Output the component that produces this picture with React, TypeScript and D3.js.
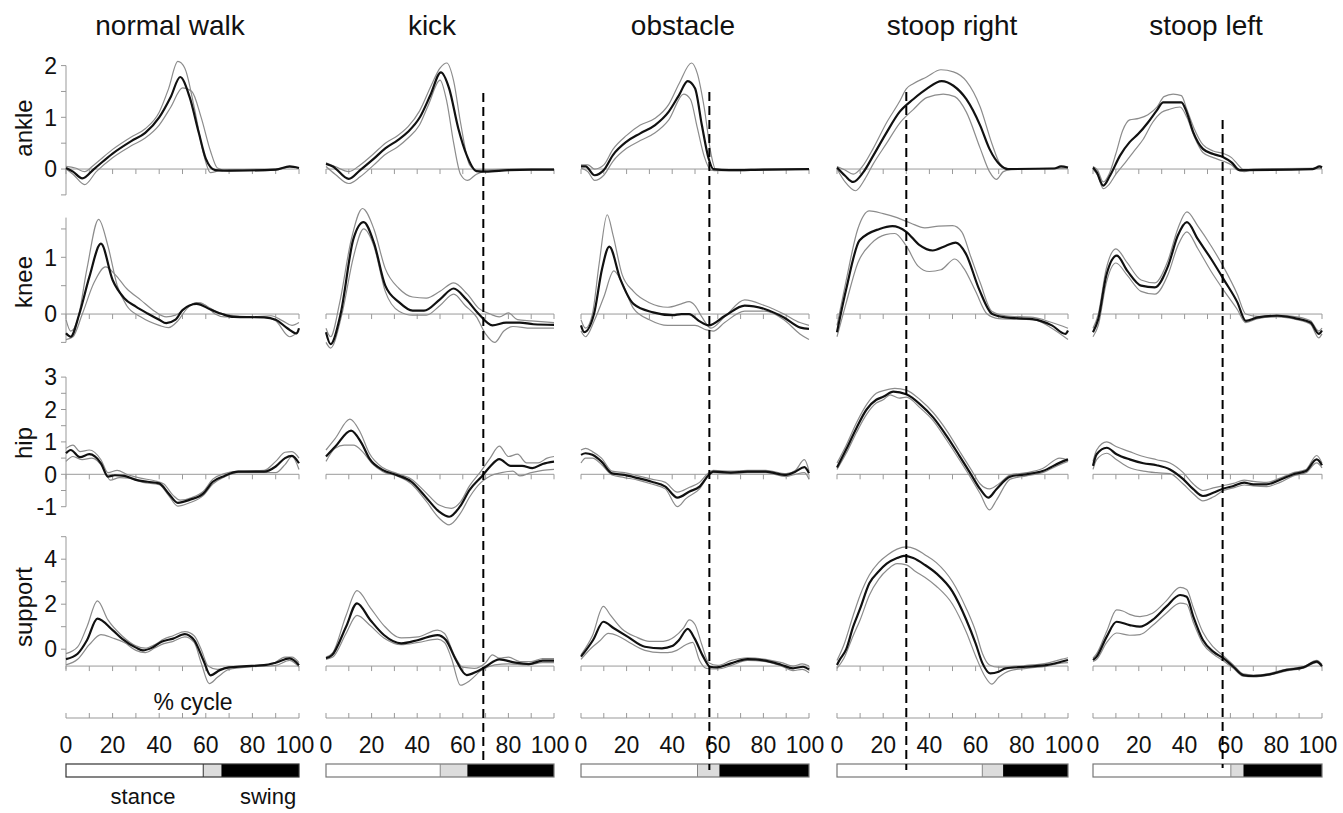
import React from 'react';
import * as d3 from 'd3';

type P = [number, number];

// ---------- labels ----------
const conditions = ['normal walk', 'kick', 'obstacle', 'stoop right', 'stoop left'];
const joints = ['ankle', 'knee', 'hip', 'support'];
const xTickValues = [0, 20, 40, 60, 80, 100];
const xMinorTicks = [0, 10, 20, 30, 40, 50, 60, 70, 80, 90, 100];
const yTicks = [
  [-0.5, 0, 0.5, 1, 1.5, 2],
  [-0.5, 0, 0.5, 1, 1.5],
  [-1, -0.5, 0, 0.5, 1, 1.5, 2, 2.5, 3],
  [0, 1, 2, 3, 4, 5],
];
const yTickLabels = [[0, 1, 2], [0, 1], [-1, 0, 1, 2, 3], [0, 2, 4]];
const rowBaseline = [0, 0, 0, -0.75];

// phase bars (% of cycle): end of stance, start of swing
const stanceEnd = [58.9, 50.1, 51.1, 62.9, 60.2];
const swingStart = [66.7, 62.0, 60.7, 71.9, 65.7];
// dashed event markers (% cycle)
const eventMark: (number | null)[] = [null, 69, 56.3, 30, 56.6];

// ---------- normal walk ----------
const walkAnkleMean: P[] = [[0,0.02],[3,-0.05],[7,-0.18],[12,0.0],[20,0.3],[28,0.54],[34,0.7],[40,1.0],[45,1.4],[49,1.78],[53,1.4],[57,0.7],[60,0.2],[64,-0.02],[70,-0.03],[90,-0.01],[96,0.05],[100,0.02]];
const walkAnkleA: P[] = [[0,0.05],[4,0.02],[8,-0.05],[12,0.08],[20,0.38],[28,0.62],[34,0.78],[40,1.1],[44,1.55],[48,2.08],[51,1.95],[55,1.2],[59,0.3],[62,-0.07],[66,-0.03],[75,-0.01],[90,0.0],[96,0.04],[100,0.02]];
const walkAnkleB: P[] = [[0,0.0],[3,-0.1],[8,-0.3],[13,-0.05],[20,0.22],[28,0.45],[34,0.6],[40,0.85],[45,1.2],[50,1.57],[54,1.5],[58,1.0],[62,0.35],[65,0.02],[70,-0.04],[90,-0.02],[96,0.04],[100,0.02]];
const walkKneeMean: P[] = [[0,-0.34],[2,-0.4],[5.7,0],[10,0.65],[15,1.24],[20,0.6],[25,0.28],[30,0.13],[35,0.01],[40,-0.1],[43,-0.16],[47,-0.1],[50,0.07],[56,0.18],[62,0.08],[67,0.0],[72,-0.05],[85,-0.06],[90,-0.1],[95,-0.25],[99,-0.34],[100,-0.25]];
const walkKneeA: P[] = [[0,-0.1],[2,-0.3],[5,-0.1],[9,0.8],[14,1.67],[18,1.2],[22,0.5],[26,0.15],[32,-0.05],[40,-0.2],[44,-0.24],[48,-0.12],[52,0.1],[56,0.2],[60,0.15],[64,0.0],[68,-0.05],[85,-0.05],[90,-0.12],[96,-0.4],[100,-0.3]];
const walkKneeB: P[] = [[0,-0.45],[3,-0.4],[7,0.0],[12,0.55],[17,0.83],[21,0.7],[26,0.45],[32,0.25],[38,0.05],[43,-0.05],[47,-0.02],[52,0.12],[57,0.2],[62,0.1],[66,0.02],[70,-0.02],[80,-0.05],[88,-0.03],[93,-0.12],[97,-0.2],[100,-0.15]];
const walkHipMean: P[] = [[0,0.65],[2,0.75],[6,0.53],[10,0.62],[15,0.34],[18,-0.07],[21,-0.03],[25,-0.05],[30,-0.17],[35,-0.23],[40,-0.28],[44,-0.59],[48,-0.88],[53,-0.79],[59,-0.59],[63,-0.23],[68,-0.05],[74,0.08],[85,0.08],[90,0.24],[94,0.5],[97,0.57],[100,0.34]];
const walkHipA: P[] = [[0,0.8],[3,0.9],[6,0.7],[10,0.75],[15,0.45],[18,0.05],[22,0.12],[26,0.0],[32,-0.12],[38,-0.2],[42,-0.3],[46,-0.65],[49,-0.8],[54,-0.72],[59,-0.52],[63,-0.15],[68,0.02],[74,0.1],[85,0.12],[90,0.4],[94,0.68],[97,0.7],[100,0.5]];
const walkHipB: P[] = [[0,0.4],[3,0.55],[7,0.45],[11,0.5],[16,0.2],[19,-0.18],[23,-0.1],[27,-0.12],[33,-0.25],[40,-0.32],[44,-0.65],[48,-0.98],[53,-0.88],[59,-0.65],[63,-0.3],[68,-0.08],[74,0.05],[85,0.05],[90,0.05],[94,0.3],[97,0.55],[100,0.15]];
const walkSupportMean: P[] = [[0,-0.44],[5,-0.2],[9,0.4],[13.5,1.36],[20,0.85],[24,0.47],[30,0.07],[33,-0.05],[37,0.07],[41,0.33],[46,0.47],[51,0.67],[55,0.4],[59,-0.5],[62,-1.16],[66,-0.93],[70,-0.81],[76,-0.76],[85,-0.71],[90,-0.6],[96,-0.41],[100,-0.71]];
const walkSupportA: P[] = [[0,-0.2],[5,0.1],[9,1.0],[13.5,2.15],[18,1.3],[24,0.6],[30,0.15],[34,0.05],[38,0.2],[42,0.45],[46,0.6],[51,0.78],[55,0.6],[58,0.0],[61,-0.75],[65,-0.9],[70,-0.8],[80,-0.74],[88,-0.68],[94,-0.35],[97,-0.35],[100,-0.6]];
const walkSupportB: P[] = [[0,-0.7],[5,-0.45],[10,0.2],[15,0.65],[20,0.5],[25,0.3],[30,-0.05],[34,-0.15],[38,0.05],[42,0.25],[46,0.35],[51,0.55],[55,0.3],[58,-0.6],[61.5,-1.53],[65,-1.25],[70,-0.9],[80,-0.78],[90,-0.72],[96,-0.5],[100,-0.8]];

// ---------- kick ----------
const kickAnkleMean: P[] = [[0,0.1],[3,0.05],[10,-0.19],[15,-0.02],[21,0.2],[26,0.4],[31.5,0.56],[36,0.72],[41.3,1.01],[45.8,1.43],[50.4,1.87],[54,1.56],[58,0.79],[61.7,0.27],[66,-0.04],[70,-0.05],[80,-0.02],[90,-0.01],[100,-0.01]];
const kickAnkleA: P[] = [[0,0.12],[4,0.05],[10,-0.05],[15,0.08],[21,0.3],[26,0.5],[31.5,0.65],[36,0.82],[41,1.12],[46,1.6],[50,1.95],[53,2.05],[56,1.7],[59,0.9],[63,0.08],[66,-0.02],[80,0.0],[100,0.0]];
const kickAnkleB: P[] = [[0,0.05],[4,-0.1],[10,-0.28],[15,-0.15],[21,0.08],[26,0.28],[31.5,0.43],[36,0.6],[41,0.85],[45,1.25],[50,1.72],[53,1.3],[56,0.5],[59,-0.1],[62,-0.22],[66,-0.1],[70,-0.04],[80,-0.02],[100,-0.01]];
const kickKneeMean: P[] = [[0,-0.32],[2,-0.53],[6.4,0],[12,1.32],[16.5,1.62],[21,1.26],[26,0.5],[32,0.21],[38,0.06],[43,0.06],[50,0.26],[56,0.45],[61.5,0.26],[67,0.0],[73,-0.2],[79,-0.15],[85,-0.15],[91,-0.18],[100,-0.19]];
const kickKneeA: P[] = [[0,-0.25],[2,-0.4],[6,0.2],[11,1.3],[16,1.86],[21,1.5],[26,0.8],[32,0.45],[38,0.3],[44,0.28],[50,0.4],[56,0.55],[62,0.35],[67,0.1],[72,0.0],[76,-0.05],[80,0.02],[84,-0.1],[90,-0.12],[100,-0.15]];
const kickKneeB: P[] = [[0,-0.5],[2,-0.6],[7,0.0],[12,1.0],[16.5,1.5],[21,1.2],[26,0.4],[32,0.05],[38,-0.02],[44,-0.02],[50,0.15],[56,0.35],[61,0.15],[66,-0.05],[70,-0.35],[74,-0.5],[78,-0.3],[82,-0.22],[90,-0.25],[100,-0.25]];
const kickHipMean: P[] = [[0,0.55],[4,0.85],[11,1.35],[15.6,0.96],[19,0.49],[25,0.13],[31,-0.02],[37.5,-0.23],[43.6,-0.69],[49.6,-1.15],[54,-1.31],[58.7,-1.0],[63,-0.48],[68.5,-0.05],[72,0.24],[76,0.47],[81,0.26],[86,0.26],[90.5,0.19],[95,0.32],[100,0.39]];
const kickHipA: P[] = [[0,0.75],[4,1.1],[10.5,1.7],[15,1.3],[19,0.65],[25,0.2],[31,0.03],[37.5,-0.15],[43.6,-0.55],[49.6,-0.95],[55,-1.05],[59,-0.85],[63,-0.35],[68,0.1],[72,0.5],[76,0.87],[80,0.55],[84,0.62],[88,0.35],[93,0.35],[97,0.5],[100,0.55]];
const kickHipB: P[] = [[0,0.4],[4,0.8],[8,0.9],[12,0.9],[16,0.7],[20,0.35],[25,0.08],[31,-0.05],[37.5,-0.3],[43.6,-0.8],[49.6,-1.35],[54,-1.56],[59,-1.2],[63,-0.7],[68,-0.25],[72,-0.05],[77,0.05],[82,0.1],[85,-0.05],[90,0.05],[95,0.12],[100,0.15]];
const kickSupportMean: P[] = [[0,-0.4],[2.7,-0.26],[8.8,1.0],[13.6,2.04],[19.4,1.3],[25.4,0.63],[33,0.26],[40.5,0.41],[48.9,0.63],[52.6,0.41],[57,-0.48],[61.7,-1.15],[66,-1.0],[70,-0.78],[76,-0.45],[83,-0.6],[89,-0.66],[95,-0.51],[100,-0.51]];
const kickSupportA: P[] = [[0,-0.35],[3,-0.15],[8.8,1.5],[13.6,2.6],[19.4,1.85],[25.4,1.05],[33,0.5],[40.5,0.55],[48.9,0.85],[52,0.7],[56,-0.2],[60,-0.8],[65,-0.85],[70,-0.6],[73,-0.25],[76,-0.4],[80,-0.35],[85,-0.55],[90,-0.55],[95,-0.42],[100,-0.42]];
const kickSupportB: P[] = [[0,-0.45],[3,-0.35],[8.8,0.7],[13.6,1.5],[19.4,1.05],[25.4,0.5],[33,0.2],[40.5,0.3],[48.9,0.45],[52,0.3],[55,-0.4],[59,-1.6],[63,-1.4],[68,-0.95],[74,-0.7],[80,-0.65],[88,-0.7],[95,-0.6],[100,-0.6]];

// ---------- obstacle ----------
const obsAnkleMean: P[] = [[0,0.05],[2,0.05],[6,-0.12],[10,-0.02],[14,0.27],[20,0.53],[26,0.69],[32.5,0.85],[38.5,1.11],[43,1.43],[46.8,1.7],[50,1.56],[53,0.85],[56,0.2],[58,0.0],[65,-0.02],[80,-0.01],[100,0.0]];
const obsAnkleA: P[] = [[0,0.08],[3,0.08],[6,0.0],[10,0.08],[14,0.38],[20,0.65],[26,0.85],[32.5,0.98],[38.5,1.25],[43,1.65],[48.5,2.05],[51,1.85],[54,1.2],[57,0.3],[59,0.0],[65,-0.01],[100,0.0]];
const obsAnkleB: P[] = [[0,0.02],[3,-0.05],[6,-0.22],[10,-0.12],[14,0.15],[20,0.4],[26,0.55],[32.5,0.7],[38.5,0.95],[45,1.45],[48,1.35],[51,0.8],[54,0.25],[57,-0.02],[60,-0.03],[100,0.0]];
const obsKneeMean: P[] = [[0,-0.2],[1.4,-0.32],[5.7,0],[9.2,0.79],[12.4,1.19],[17.2,0.62],[23,0.18],[31.6,0.03],[40.2,-0.02],[44,0.0],[47.4,0.0],[51.7,-0.12],[56,-0.2],[63.2,-0.03],[71.8,0.15],[80.5,0.09],[89,-0.06],[96.3,-0.24],[100,-0.26]];
const obsKneeA: P[] = [[0,-0.1],[2,-0.25],[5,0.0],[8,0.9],[11.5,1.75],[14,1.4],[18,0.7],[23,0.4],[30,0.2],[38,0.12],[44,0.18],[47.4,0.22],[50,0.15],[53,-0.05],[57,-0.25],[63,-0.05],[71.8,0.25],[80.5,0.15],[89,0.0],[96,-0.15],[100,-0.2]];
const obsKneeB: P[] = [[0,-0.3],[2,-0.4],[6,-0.1],[10,0.3],[14.4,0.76],[18,0.55],[23,0.1],[30,-0.1],[38,-0.2],[45,-0.2],[50,-0.2],[55,-0.28],[58,-0.3],[63,-0.15],[71.8,0.05],[80.5,0.05],[89,-0.1],[96,-0.35],[100,-0.45]];
const obsHipMean: P[] = [[0,0.6],[2,0.65],[5,0.6],[9,0.39],[13.6,0.03],[19,-0.02],[25,-0.12],[31,-0.23],[37,-0.38],[42.3,-0.72],[47.6,-0.53],[52,-0.38],[56,-0.02],[58,0.08],[65.7,0.05],[73,0.08],[81,0.08],[90,-0.02],[94,0.08],[98,0.22],[100,0.03]];
const obsHipA: P[] = [[0,0.75],[2,0.8],[5,0.7],[9,0.5],[13.6,0.1],[19,0.05],[25,-0.05],[31,-0.15],[37,-0.25],[42.3,-0.55],[47.6,-0.4],[52,-0.25],[56,0.05],[58,0.12],[65.7,0.1],[73,0.12],[81,0.12],[90,0.02],[94,0.12],[98,0.45],[100,0.1]];
const obsHipB: P[] = [[0,0.35],[2,0.5],[5,0.5],[9,0.3],[13.6,-0.02],[19,-0.1],[25,-0.18],[31,-0.3],[37,-0.45],[42.3,-1.0],[46,-0.75],[52,-0.45],[56,-0.05],[58,0.05],[65.7,0.02],[73,0.05],[81,0.05],[90,-0.07],[94,0.0],[98,0.05],[100,-0.15]];
const obsSupportMean: P[] = [[0,-0.33],[5.3,0.41],[9.8,1.22],[14.4,0.93],[20.4,0.56],[28,0.11],[35.5,0.04],[40,0.14],[43,0.41],[46.8,0.9],[49.8,0.48],[53.6,-0.33],[56.6,-0.78],[59.7,-0.81],[65.7,-0.63],[73,-0.44],[80.8,-0.51],[88,-0.7],[93,-0.85],[97.4,-0.78],[100,-0.9]];
const obsSupportA: P[] = [[0,-0.25],[5,0.6],[9.8,1.9],[13,1.5],[18,0.9],[24,0.55],[30,0.35],[36,0.35],[41,0.55],[45,0.95],[47.5,1.3],[50,1.1],[53,0.2],[56,-0.6],[60,-0.72],[66,-0.5],[73,-0.38],[81,-0.45],[88,-0.6],[93,-0.75],[97,-0.65],[100,-0.75]];
const obsSupportB: P[] = [[0,-0.45],[5,0.1],[8,0.35],[12,0.7],[16,0.6],[22,0.25],[28,-0.05],[35,-0.15],[38,-0.15],[42,-0.05],[46,0.2],[49,0.3],[52,-0.5],[55,-0.85],[60,-0.88],[66,-0.72],[73,-0.5],[81,-0.55],[88,-0.75],[93,-0.95],[97,-0.9],[100,-1.05]];

// ---------- stoop right ----------
const srAnkleMean: P[] = [[0,0.03],[3.5,-0.13],[7,-0.25],[11.4,-0.06],[15.7,0.26],[21.5,0.71],[27,1.1],[33,1.35],[38.8,1.55],[45.3,1.7],[50.4,1.61],[56,1.35],[62,0.84],[66,0.39],[70.6,0.08],[74,0.0],[94,0.01],[97,0.05],[100,0.03]];
const srAnkleA: P[] = [[0,0.05],[3.5,-0.02],[7,-0.1],[11,0.05],[15.7,0.4],[21.5,0.9],[27,1.3],[30,1.55],[33,1.65],[38.8,1.78],[45,1.92],[50.4,1.88],[56,1.7],[62,1.2],[67,0.5],[70.6,0.1],[74,0.0],[95,0.01],[100,0.02]];
const srAnkleB: P[] = [[0,0.0],[3.5,-0.25],[8,-0.42],[12,-0.2],[15.7,0.1],[21.5,0.5],[27,0.88],[33,1.15],[38.8,1.38],[46,1.45],[51,1.4],[56,1.1],[62,0.4],[66,-0.05],[69,-0.2],[72,-0.05],[76,0.0],[100,0.02]];
const srKneeMean: P[] = [[0,-0.32],[4,0.44],[9.8,1.3],[18.4,1.5],[24,1.55],[30,1.45],[35.6,1.22],[41.4,1.12],[47,1.2],[51.4,1.26],[55.7,1.07],[61.5,0.44],[67.2,0.0],[73,-0.06],[84.5,-0.09],[93,-0.2],[98.9,-0.35],[100,-0.29]];
const srKneeA: P[] = [[0,-0.2],[4,0.6],[9,1.5],[14,1.82],[20,1.77],[26,1.7],[32,1.6],[38,1.52],[44,1.55],[50,1.56],[54,1.45],[58,1.0],[62,0.55],[67,0.05],[73,-0.03],[85,-0.06],[93,-0.15],[100,-0.25]];
const srKneeB: P[] = [[0,-0.4],[4,0.2],[9,0.9],[15,1.25],[21,1.4],[25,1.42],[30,1.2],[35,0.85],[40,0.75],[45,0.78],[51,0.97],[55,0.8],[60,0.4],[65,0.0],[70,-0.08],[85,-0.1],[93,-0.25],[100,-0.45]];
const srHipMean: P[] = [[0,0.21],[4,0.77],[8.5,1.44],[12.8,2.0],[17,2.3],[20,2.39],[24.4,2.55],[30,2.47],[36,2.16],[41.7,1.75],[47.5,1.18],[53,0.57],[58,0.0],[62,-0.46],[65.5,-0.72],[69,-0.46],[75,-0.07],[82,0.0],[89,0.1],[96.5,0.36],[100,0.46]];
const srHipA: P[] = [[0,0.35],[4,0.9],[8.5,1.6],[12.8,2.15],[17,2.5],[21,2.6],[25,2.65],[30,2.6],[36,2.3],[41.7,1.9],[47.5,1.35],[53,0.72],[58,0.15],[62,-0.3],[66,-0.45],[70,-0.3],[75,-0.02],[82,0.05],[89,0.18],[96.5,0.5],[100,0.45]];
const srHipB: P[] = [[0,0.15],[4,0.65],[8.5,1.3],[12.8,1.85],[17,2.2],[20,2.3],[23,2.45],[27,2.35],[30,2.38],[36,2.05],[41.7,1.65],[47.5,1.05],[53,0.45],[58,-0.12],[62,-0.6],[66,-1.1],[69,-0.8],[75,-0.15],[82,-0.05],[89,0.05],[96.5,0.3],[100,0.4]];
const srSupportMean: P[] = [[0,-0.7],[1,-0.5],[4,0.0],[7,1.0],[10,1.8],[14,2.93],[18,3.45],[21.5,3.8],[26,4.05],[29,4.15],[33,4.05],[38,3.75],[43,3.37],[50,2.56],[56,1.3],[60,0.26],[63,-0.63],[66.3,-1.07],[70,-1.0],[73,-0.85],[82,-0.78],[91,-0.7],[97,-0.56],[100,-0.48]];
const srSupportA: P[] = [[0,-0.5],[3,0.2],[7,1.5],[10,2.4],[14,3.3],[18,3.85],[22,4.2],[26,4.45],[30,4.55],[34,4.45],[38,4.2],[43,3.85],[50,3.0],[56,1.8],[60,0.8],[63,-0.2],[66,-0.7],[70,-0.8],[75,-0.78],[82,-0.72],[91,-0.62],[97,-0.45],[100,-0.38]];
const srSupportB: P[] = [[0,-0.85],[3,-0.4],[7,0.6],[10,1.3],[14,2.4],[18,3.1],[22,3.55],[26,3.8],[30,3.75],[34,3.45],[38,3.2],[43,2.8],[50,2.0],[56,0.75],[60,-0.3],[64,-1.2],[67,-1.55],[70,-1.25],[75,-0.95],[82,-0.85],[91,-0.75],[97,-0.62],[100,-0.6]];

// ---------- stoop left ----------
const slAnkleMean: P[] = [[0,0.03],[1.6,-0.06],[4.5,-0.32],[7.4,-0.13],[11.8,0.26],[16,0.52],[19.8,0.68],[24,0.9],[27.8,1.13],[30.7,1.29],[36.5,1.29],[38.6,1.29],[40.9,1.1],[43.8,0.71],[48,0.39],[52.5,0.29],[56.9,0.23],[60.5,0.13],[64,-0.02],[67,-0.02],[96,0.0],[99,0.05],[100,0.03]];
const slAnkleA: P[] = [[0,0.05],[2,-0.02],[4.5,-0.25],[7,-0.1],[10,0.3],[13,0.75],[16,0.95],[20,0.98],[24,1.05],[28,1.2],[31,1.4],[35,1.45],[38.6,1.42],[41,1.15],[44,0.8],[48,0.47],[52.5,0.35],[57,0.3],[60.5,0.22],[63,0.1],[66,-0.02],[70,0.0],[100,0.02]];
const slAnkleB: P[] = [[0,0.0],[2,-0.12],[4.5,-0.38],[7,-0.3],[10,-0.1],[14,0.12],[18,0.35],[22,0.58],[26,0.9],[30,1.1],[33,1.15],[38,1.2],[41,1.0],[44,0.65],[48,0.32],[52.5,0.22],[57,0.15],[60.5,0.08],[63,-0.02],[66,-0.05],[70,-0.01],[100,0.01]];
const slKneeMean: P[] = [[0,-0.32],[2.3,-0.09],[5.8,0.68],[10.4,1.03],[15,0.76],[21,0.5],[27,0.47],[32.8,0.85],[37,1.38],[41,1.62],[45.8,1.32],[51.6,0.97],[57.4,0.59],[63,0.21],[66.7,-0.12],[72,-0.06],[80.6,-0.03],[89,-0.08],[95,-0.15],[98.6,-0.35],[100,-0.29]];
const slKneeA: P[] = [[0,-0.25],[2.3,0.0],[5.8,0.8],[10,1.15],[15,0.9],[21,0.6],[27,0.55],[32.8,0.95],[37,1.5],[41,1.8],[45.8,1.55],[51.6,1.2],[57.4,0.8],[63,0.35],[66.7,0.0],[72,-0.04],[80.6,-0.02],[89,-0.05],[95,-0.12],[98.6,-0.3],[100,-0.25]];
const slKneeB: P[] = [[0,-0.4],[2.3,-0.2],[5.8,0.55],[10,0.9],[15,0.68],[21,0.4],[27,0.35],[32.8,0.7],[37,1.2],[41,1.45],[45.8,1.15],[51.6,0.75],[57.4,0.4],[63,0.08],[66.7,-0.15],[72,-0.08],[80.6,-0.05],[89,-0.1],[95,-0.18],[98.6,-0.42],[100,-0.35]];
const slHipMean: P[] = [[0,0.26],[1.6,0.62],[6,0.82],[10.3,0.62],[16,0.46],[22,0.34],[27.8,0.28],[33.6,0.15],[39.4,-0.15],[43.8,-0.46],[48,-0.67],[52.5,-0.57],[57,-0.44],[61.3,-0.36],[66,-0.26],[70,-0.31],[75.8,-0.31],[81.7,-0.17],[87.5,0.0],[93,0.1],[97.7,0.46],[100,0.28]];
const slHipA: P[] = [[0,0.4],[1.6,0.75],[6,1.0],[10.3,0.85],[16,0.7],[22,0.55],[27.8,0.45],[33.6,0.35],[39.4,0.05],[43.8,-0.3],[48,-0.5],[52.5,-0.42],[57,-0.35],[61.3,-0.28],[66,-0.18],[70,-0.22],[75.8,-0.25],[81.7,-0.12],[87.5,0.05],[93,0.15],[97.7,0.58],[100,0.35]];
const slHipB: P[] = [[0,0.15],[1.6,0.45],[6,0.65],[10.3,0.45],[16,0.2],[22,0.1],[27.8,0.05],[33.6,0.02],[39.4,-0.3],[43.8,-0.6],[48,-0.82],[52.5,-0.7],[57,-0.5],[61.3,-0.42],[66,-0.33],[70,-0.36],[75.8,-0.38],[81.7,-0.25],[87.5,-0.05],[93,0.05],[97.7,0.35],[100,0.2]];
const slSupportMean: P[] = [[0,-0.48],[1.6,-0.33],[6,0.56],[10.3,1.22],[16,1.07],[20.5,1.0],[26,1.3],[32,1.89],[38,2.41],[40.9,2.33],[43.8,1.45],[48,0.41],[52.5,-0.11],[57,-0.41],[61.3,-0.78],[65.6,-1.15],[70,-1.19],[77,-1.12],[84.6,-0.92],[91.8,-0.81],[97.7,-0.55],[100,-0.75]];
const slSupportA: P[] = [[0,-0.4],[1.6,-0.2],[6,0.8],[10.3,1.75],[13,1.7],[16,1.55],[20.5,1.45],[26,1.6],[32,2.15],[38,2.75],[40.9,2.65],[43.8,1.85],[48,0.75],[52.5,0.1],[57,-0.3],[61.3,-0.7],[65.6,-1.1],[70,-1.15],[77,-1.08],[84.6,-0.88],[91.8,-0.78],[97.7,-0.5],[100,-0.68]];
const slSupportB: P[] = [[0,-0.55],[1.6,-0.45],[6,0.3],[10.3,0.72],[16,0.62],[20.5,0.65],[26,1.05],[32,1.6],[38,2.05],[40.9,2.0],[43.8,1.2],[48,0.25],[52.5,-0.22],[57,-0.52],[61.3,-0.85],[65.6,-1.2],[70,-1.23],[77,-1.15],[84.6,-0.96],[91.8,-0.84],[97.7,-0.6],[100,-0.8]];

// table [column][row] -> [mean, gray A, gray B]
const table: P[][][][] = [
  [[walkAnkleMean, walkAnkleA, walkAnkleB], [walkKneeMean, walkKneeA, walkKneeB], [walkHipMean, walkHipA, walkHipB], [walkSupportMean, walkSupportA, walkSupportB]],
  [[kickAnkleMean, kickAnkleA, kickAnkleB], [kickKneeMean, kickKneeA, kickKneeB], [kickHipMean, kickHipA, kickHipB], [kickSupportMean, kickSupportA, kickSupportB]],
  [[obsAnkleMean, obsAnkleA, obsAnkleB], [obsKneeMean, obsKneeA, obsKneeB], [obsHipMean, obsHipA, obsHipB], [obsSupportMean, obsSupportA, obsSupportB]],
  [[srAnkleMean, srAnkleA, srAnkleB], [srKneeMean, srKneeA, srKneeB], [srHipMean, srHipA, srHipB], [srSupportMean, srSupportA, srSupportB]],
  [[slAnkleMean, slAnkleA, slAnkleB], [slKneeMean, slKneeA, slKneeB], [slHipMean, slHipA, slHipB], [slSupportMean, slSupportA, slSupportB]],
];

// ---------- layout ----------
const W = 1343;
const H = 813;
const colX0 = [66, 326, 581, 837, 1093];
const colX1 = [299, 554, 809, 1068, 1322];
const titleX = [170, 432, 683, 952, 1206];
const rowDomain: [number, number][] = [[-0.5, 2], [-0.5, 1.7], [-1, 3], [-1, 5]];
const rowRange: [number, number][] = [[194.9, 65.6], [342.4, 217.6], [506.7, 377.1], [671.7, 536.7]];
const rowAxisExtent: [number, number][] = [[-0.5, 2], [-0.5, 1.7], [-1, 3], [-0.9, 5]];
const rowLabelY = [128, 282, 443, 607];
const axisY = 718;
const barY = 764;
const barH = 13;
const FONT = "'Liberation Sans', Arial, Helvetica, sans-serif";

export default function App() {
  const xScales = colX0.map((x0, i) => d3.scaleLinear().domain([0, 100]).range([x0, colX1[i]]));
  const yScales = rowDomain.map((d, i) => d3.scaleLinear().domain(d).range(rowRange[i]));

  const mkLine = (xs: d3.ScaleLinear<number, number>, ys: d3.ScaleLinear<number, number>) =>
    d3.line<P>().x(d => xs(d[0])).y(d => ys(d[1])).curve(d3.curveMonotoneX);

  const dashTop = [0, 93, 92, 92, 120];
  const dashBottom = [0, 762, 770, 770, 768];

  return (
    <svg width={W} height={H} style={{ position: 'absolute', left: 0, top: 0, background: '#fff' }} fontFamily={FONT}>
      <rect x={0} y={0} width={W} height={H} fill="#fff" />
      {/* titles */}
      {conditions.map((c, i) => (
        <text key={c} x={titleX[i]} y={35} fontSize={28} textAnchor="middle" fill="#111">{c}</text>
      ))}
      {/* row labels */}
      {joints.map((j, r) => (
        <text key={j} transform={`translate(32,${rowLabelY[r]}) rotate(-90)`} fontSize={24} textAnchor="middle" fill="#111">{j}</text>
      ))}
      {/* y axes in first column */}
      {joints.map((j, r) => {
        const ys = yScales[r];
        const ax = colX0[0];
        return (
          <g key={'yax' + j}>
            <line x1={ax} x2={ax} y1={ys(rowAxisExtent[r][0])} y2={ys(rowAxisExtent[r][1])} stroke="#999" strokeWidth={1} />
            {yTicks[r].map(t => (
              <line key={t} x1={ax - 5} x2={ax} y1={ys(t)} y2={ys(t)} stroke="#999" strokeWidth={1} />
            ))}
            {yTickLabels[r].map(t => (
              <text key={'l' + t} x={ax - 9} y={ys(t)} dy="0.36em" fontSize={23} textAnchor="end" fill="#111">{t}</text>
            ))}
          </g>
        );
      })}
      {/* panels */}
      {conditions.map((c, ci) => {
        const xs = xScales[ci];
        return (
          <g key={'col' + c}>
            {joints.map((j, r) => {
              const ys = yScales[r];
              const by = ys(rowBaseline[r]);
              const line = mkLine(xs, ys);
              const [mean, a, b] = table[ci][r];
              return (
                <g key={j}>
                  <line x1={xs(0)} x2={xs(100)} y1={by} y2={by} stroke="#9a9a9a" strokeWidth={1} />
                  {xMinorTicks.map(t => (
                    <line key={t} x1={xs(t)} x2={xs(t)} y1={by} y2={by + 5} stroke="#9a9a9a" strokeWidth={1} />
                  ))}
                  <path d={line(a) || ''} fill="none" stroke="#8c8c8c" strokeWidth={1.2} />
                  <path d={line(b) || ''} fill="none" stroke="#8c8c8c" strokeWidth={1.2} />
                  <path d={line(mean) || ''} fill="none" stroke="#111" strokeWidth={2.2} strokeLinejoin="round" />
                </g>
              );
            })}
            {/* bottom % cycle axis */}
            <line x1={xs(0)} x2={xs(100)} y1={axisY} y2={axisY} stroke="#999" strokeWidth={1} />
            {xMinorTicks.map(t => (
              <line key={'bt' + t} x1={xs(t)} x2={xs(t)} y1={axisY - 5} y2={axisY} stroke="#999" strokeWidth={1} />
            ))}
            {xTickValues.map(t => (
              <text key={'bl' + t} x={xs(t) - (t === 100 ? 4 : 0)} y={753} fontSize={23} textAnchor="middle" fill="#111">{t}</text>
            ))}
            {/* stance / swing bar */}
            <rect x={xs(0)} y={barY} width={xs(stanceEnd[ci]) - xs(0)} height={barH} fill="#fff" />
            <rect x={xs(stanceEnd[ci])} y={barY} width={xs(swingStart[ci]) - xs(stanceEnd[ci])} height={barH} fill="#dcdcdc" />
            <rect x={xs(swingStart[ci])} y={barY} width={xs(100) - xs(swingStart[ci])} height={barH} fill="#000" />
            <rect x={xs(0)} y={barY} width={xs(100) - xs(0)} height={barH} fill="none" stroke={ci === 0 ? '#333' : '#777'} strokeWidth={1.2} />
            <line x1={xs(stanceEnd[ci])} x2={xs(stanceEnd[ci])} y1={barY} y2={barY + barH} stroke={ci === 0 ? '#333' : '#888'} strokeWidth={1} />
          </g>
        );
      })}
      {/* event markers */}
      {eventMark.map((m, ci) =>
        m === null ? null : (
          <line key={'ev' + ci} x1={xScales[ci](m)} x2={xScales[ci](m)} y1={dashTop[ci]} y2={dashBottom[ci]}
            stroke="#000" strokeWidth={2} strokeDasharray="9,5" />
        )
      )}
      <text x={193} y={710} fontSize={23} textAnchor="middle" fill="#111">% cycle</text>
      <text x={143} y={804} fontSize={22} textAnchor="middle" fill="#111">stance</text>
      <text x={268} y={804} fontSize={22} textAnchor="middle" fill="#111">swing</text>
    </svg>
  );
}
